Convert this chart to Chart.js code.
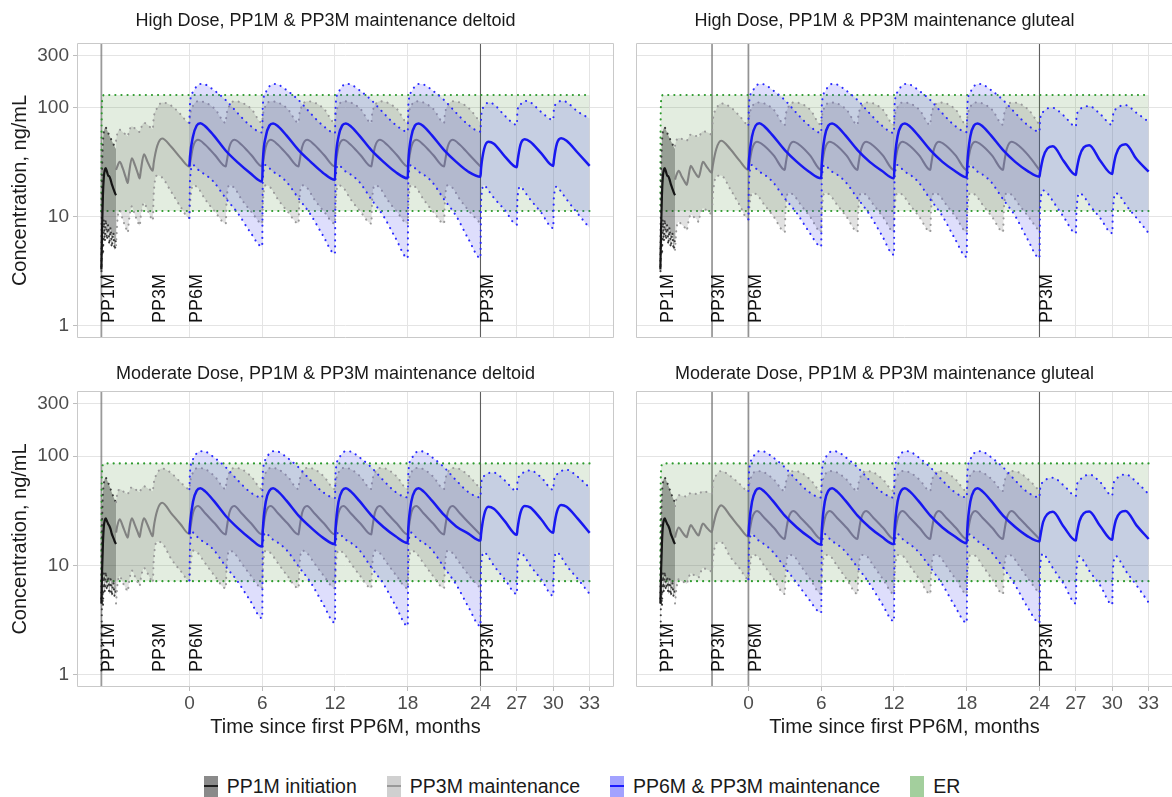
<!DOCTYPE html>
<html><head><meta charset="utf-8">
<script src="https://cdn.jsdelivr.net/npm/chart.js@4.4.1/dist/chart.umd.min.js"></script>
<style>
html,body{margin:0;padding:0;background:#fff;overflow:hidden;width:1172px;height:797px;}
canvas{position:absolute;}
#legend{position:absolute;top:775px;left:-4px;width:1172px;height:22px;display:flex;justify-content:center;align-items:center;font-family:"Liberation Sans",Arial,sans-serif;font-size:19.5px;color:#1a1a1a;}
.item{display:flex;align-items:center;margin:0 15px;}
.key{width:14px;height:21px;position:relative;margin-right:9px;display:inline-block;}
.key i{position:absolute;left:0;right:0;top:9.5px;height:2px;}
</style></head>
<body>
<canvas id="c0" width="614" height="340" style="left:0;top:0"></canvas>
<canvas id="c1" width="537" height="340" style="left:636px;top:0"></canvas>
<canvas id="c2" width="614" height="400" style="left:0;top:345px"></canvas>
<canvas id="c3" width="537" height="400" style="left:636px;top:345px"></canvas>
<div id="legend">
  <div class="item"><span class="key" style="background:#8a8a8a"><i style="background:#1e1e1e"></i></span>PP1M initiation</div>
  <div class="item"><span class="key" style="background:#d0d0d0"><i style="background:#999"></i></span>PP3M maintenance</div>
  <div class="item"><span class="key" style="background:#a2a2ff"><i style="background:#1a1aff"></i></span>PP6M &amp; PP3M maintenance</div>
  <div class="item"><span class="key" style="background:#a3cf9d"></span>ER</div>
</div>
<script>
// ---------- axes / labels ----------
const X_MIN = -9.27, X_MAX = 35.01;
const Y_MIN = 0.776, Y_MAX = 394;
const X_TICKS = [0, 6, 12, 18, 24, 27, 30, 33];
const Y_TICKS = [1, 10, 100, 300];
const PANEL_TITLES = ["High Dose, PP1M & PP3M maintenance deltoid", "High Dose, PP1M & PP3M maintenance gluteal",
  "Moderate Dose, PP1M & PP3M maintenance deltoid", "Moderate Dose, PP1M & PP3M maintenance gluteal"];
const EVENT_TIMES = [-7.26, -3, 0, 24];
const EVENT_LABELS = ["PP1M", "PP3M", "PP6M", "PP3M"];
const LINE_TIMES_LEFT = [-7.26, 24];
const LINE_TIMES_RIGHT = [-3, 0, 24];

// ---------- ER band ----------
const ER_T = [-7.26, -7.25, -7.23, -7.2, -7.15, -7.08, 33];
const ER_HIGH_HI = [11.35, 50, 95, 118, 128, 131.6, 131.6];
const ER_HIGH_LO = [11.35, 11.35, 11.35, 11.35, 11.35, 11.35, 11.35];
const ER_MOD_HI = [7.2, 32, 62, 77, 83.5, 85.8, 85.8];
const ER_MOD_LO = [7.2, 7.2, 7.2, 7.2, 7.2, 7.2, 7.2];

// ---------- PP1M initiation ----------
const INIT_T = [-7.26, -7.2, -7.13, -7.06, -6.98, -6.9, -6.8, -6.7, -6.6, -6.5, -6.4, -6.28, -6.16, -6.05];
const HD_INIT_MED = [3.3, 8, 16, 23, 27, 28, 26, 24, 23.5, 22, 20, 18.3, 16.8, 15.8];
const HD_INIT_HI = [3.5, 25, 48, 60, 65, 66, 63, 59, 56, 53, 50, 47, 44, 42];
const HD_INIT_LO = [2.8, 6.5, 4.5, 9.5, 6, 9.5, 6.2, 8.5, 5.6, 8, 5.3, 7.2, 5, 6.5];
const MD_INIT_MED = [4.5, 9, 16, 22.5, 26, 27, 25.5, 24, 23, 21.5, 19.5, 18, 16.6, 15.7];
const MD_INIT_HI = [5, 24, 45, 56, 62, 63.5, 61, 57, 54, 50, 46.5, 43, 40, 37.6];
const MD_INIT_LO = [1.1, 6, 4.3, 8.5, 5.8, 8.8, 6, 8, 5.5, 7.5, 5.3, 7, 5.2, 6.2];

// ---------- PP3M maintenance ----------
const MAINT_T = [-6.05, -5.95, -5.75, -5.5, -5.25, -5.08, -5.0, -4.75, -4.5, -4.25, -4.1, -4.02, -3.75, -3.45, -3.2, -3.02, -2.95, -2.65, -2.25, -1.5, -0.75,
  0, 0.05, 0.3, 0.7, 1.3, 2.1,
  3, 3.05, 3.3, 3.7, 4.3, 5.1,
  6, 6.05, 6.3, 6.7, 7.3, 8.1,
  9, 9.05, 9.3, 9.7, 10.3, 11.1,
  12, 12.05, 12.3, 12.7, 13.3, 14.1,
  15, 15.05, 15.3, 15.7, 16.3, 17.1,
  18, 18.05, 18.3, 18.7, 19.3, 20.1,
  21, 21.05, 21.3, 21.7, 22.3, 23.1,
  24];
const TL_MAINT_MED = [27, 29, 32, 28, 23, 20.5, 24, 34.5, 30, 25, 22.5, 26, 37.5, 32, 28, 26.5, 31, 45, 52.5, 44, 35,
  29, 31, 44, 51, 46, 37, 29, 31, 44, 51, 46, 37, 29, 31, 44, 51, 46, 37, 29, 31, 44, 51, 46, 37,
  29, 31, 44, 51, 46, 37, 29, 31, 44, 51, 46, 37, 29, 31, 44, 51, 46, 37, 29, 31, 44, 51, 46, 37, 29];
const TL_MAINT_HI = [50, 58, 63, 60, 57, 55, 60, 68, 65, 62, 60, 64, 73, 70, 66, 64, 80, 100, 112, 105, 88,
  73, 85, 105, 115, 112, 98, 73, 85, 105, 115, 112, 98, 73, 85, 105, 115, 112, 98, 73, 85, 105, 115, 112, 98,
  73, 85, 105, 115, 112, 98, 73, 85, 105, 115, 112, 98, 73, 85, 105, 115, 112, 98, 73, 85, 105, 115, 112, 98, 73];
const TL_MAINT_LO = [5.5, 9, 11.5, 9.5, 8, 7.2, 9, 12.5, 10.5, 9, 8.3, 10, 13.5, 11.5, 10, 9.3, 16, 24, 23, 17, 12.5,
  9.8, 13, 19.5, 18.5, 14.5, 11.2, 8.7, 13, 19.5, 18.5, 14.5, 11.2, 8.7, 13, 19.5, 18.5, 14.5, 11.2, 8.7, 13, 19.5, 18.5, 14.5, 11.2,
  8.7, 13, 19.5, 18.5, 14.5, 11.2, 8.7, 13, 19.5, 18.5, 14.5, 11.2, 8.7, 13, 19.5, 18.5, 14.5, 11.2, 8.7, 13, 19.5, 18.5, 14.5, 11.2, 8.7];
const TR_MAINT_MED = [22, 24, 26.5, 23.5, 21, 19.7, 21.5, 29.5, 26.5, 24, 23.2, 24.5, 32, 29, 26.5, 25.5, 29, 42, 50, 42, 33,
  27, 29.5, 42, 49, 45, 36.5, 27, 29.5, 42, 49, 45, 36.5, 27, 29.5, 42, 49, 45, 36.5, 27, 29.5, 42, 49, 45, 36.5,
  27, 29.5, 42, 49, 45, 36.5, 27, 29.5, 42, 49, 45, 36.5, 27, 29.5, 42, 49, 45, 36.5, 27, 29.5, 42, 49, 45, 36.5, 27];
const TR_MAINT_HI = [45, 50, 53, 52, 51, 50, 52, 57, 56, 55, 54, 56, 61, 60, 58, 57, 75, 98, 110, 102, 85,
  70, 82, 102, 112, 110, 96, 70, 82, 102, 112, 110, 96, 70, 82, 102, 112, 110, 96, 70, 82, 102, 112, 110, 96,
  70, 82, 102, 112, 110, 96, 70, 82, 102, 112, 110, 96, 70, 82, 102, 112, 110, 96, 70, 82, 102, 112, 110, 96, 70];
const TR_MAINT_LO = [5, 7.5, 9, 8.5, 8, 7.5, 8.5, 10.5, 10, 9.5, 9, 10, 12, 11.5, 11, 10.5, 15, 23.5, 24, 18, 13,
  9.5, 11.5, 16.5, 16, 13, 10, 7.3, 11, 16.5, 16, 13, 10, 7.3, 11, 16.5, 16, 13, 10, 7.3, 11, 16.5, 16, 13, 10,
  7.3, 11, 16.5, 16, 13, 10, 7.3, 11, 16.5, 16, 13, 10, 7.3, 11, 16.5, 16, 13, 10, 7.3, 11, 16.5, 16, 13, 10, 7.3];
const BL_MAINT_MED = [20, 23, 26.5, 23, 19.5, 18, 20.5, 27, 23.5, 20, 18.2, 20.5, 27, 23.5, 20, 18.5, 22, 32, 37.5, 30, 24,
  19.4, 21, 30.5, 35, 30, 24.2, 19.2, 21, 30.5, 35, 30, 24.2, 19.2, 21, 30.5, 35, 30, 24.2, 19.2, 21, 30.5, 35, 30, 24.2,
  19.2, 21, 30.5, 35, 30, 24.2, 19.2, 21, 30.5, 35, 30, 24.2, 19.2, 21, 30.5, 35, 30, 24.2, 19.2, 21, 30.5, 35, 30, 24.2, 19.2];
const BL_MAINT_HI = [38, 45, 50, 48, 46, 45, 47, 52, 50, 48, 47, 49, 53, 51, 49, 48, 56, 70, 77, 70, 58,
  50, 57, 71, 78, 76, 65, 50, 57, 71, 78, 76, 65, 50, 57, 71, 78, 76, 65, 50, 57, 71, 78, 76, 65,
  50, 57, 71, 78, 76, 65, 50, 57, 71, 78, 76, 65, 50, 57, 71, 78, 76, 65, 50, 57, 71, 78, 76, 65, 50];
const BL_MAINT_LO = [4.5, 6.5, 8, 7, 6.2, 5.8, 6.8, 9, 8, 7, 6.5, 7.5, 9.5, 8.5, 7.5, 7, 11, 16.5, 16, 11.5, 9,
  7.3, 9, 13.7, 13, 10.5, 8, 6.2, 9, 13.7, 13, 10.5, 8, 6.2, 9, 13.7, 13, 10.5, 8, 6.2, 9, 13.7, 13, 10.5, 8,
  6.2, 9, 13.7, 13, 10.5, 8, 6.2, 9, 13.7, 13, 10.5, 8, 6.2, 9, 13.7, 13, 10.5, 8, 6.2, 9, 13.7, 13, 10.5, 8, 6.2];
const BR_MAINT_MED = [18, 20, 22.3, 20.5, 18.8, 18.2, 19.5, 23.4, 21.5, 19.5, 18.8, 20, 24.2, 22.3, 20.8, 20.2, 22, 30, 35.5, 28.5, 22.5,
  18.4, 19.5, 27, 31.5, 27.4, 22.2, 17.5, 19, 27, 31.5, 27.4, 22.2, 17.5, 19, 27, 31.5, 27.4, 22.2, 17.5, 19, 27, 31.5, 27.4, 22.2,
  17.5, 19, 27, 31.5, 27.4, 22.2, 17.5, 19, 27, 31.5, 27.4, 22.2, 17.5, 19, 27, 31.5, 27.4, 22.2, 17.5, 19, 27, 31.5, 27.4, 22.2, 17.5];
const BR_MAINT_HI = [35, 40, 44, 43.5, 43, 42.5, 43.5, 46, 45.5, 45, 44.5, 45.5, 48, 47, 46, 45.5, 55, 67, 73, 66, 56,
  48, 54, 67, 73, 71, 61, 48, 54, 67, 73, 71, 61, 48, 54, 67, 73, 71, 61, 48, 54, 67, 73, 71, 61,
  48, 54, 67, 73, 71, 61, 48, 54, 67, 73, 71, 61, 48, 54, 67, 73, 71, 61, 48, 54, 67, 73, 71, 61, 48];
const BR_MAINT_LO = [4.5, 6, 7.5, 7.2, 7, 6.8, 7.3, 8.5, 8.2, 8, 7.8, 8.2, 9.5, 9.2, 9, 8.8, 11, 16, 16.3, 12, 9.5,
  7.5, 8.5, 12.5, 12.3, 10, 7.5, 5.5, 8, 12.5, 12.3, 10, 7.5, 5.5, 8, 12.5, 12.3, 10, 7.5, 5.5, 8, 12.5, 12.3, 10, 7.5,
  5.5, 8, 12.5, 12.3, 10, 7.5, 5.5, 8, 12.5, 12.3, 10, 7.5, 5.5, 8, 12.5, 12.3, 10, 7.5, 5.5, 8, 12.5, 12.3, 10, 7.5, 5.5];

// ---------- PP6M & PP3M maintenance ----------
const PP6_T = [0, 0.05, 0.3, 0.6, 0.9, 1.3, 2, 3, 4, 5,
  6, 6.05, 6.3, 6.6, 6.9, 7.3, 8, 9, 10, 11,
  12, 12.05, 12.3, 12.6, 12.9, 13.3, 14, 15, 16, 17,
  18, 18.05, 18.3, 18.6, 18.9, 19.3, 20, 21, 22, 23,
  24, 24.05, 24.3, 24.65, 25.1, 26,
  27, 27.05, 27.3, 27.65, 28.1, 29,
  30, 30.05, 30.3, 30.65, 31.1, 32,
  33];
const TL_PP6_MED = [29, 36, 55, 69, 72.5, 68, 56, 40.5, 31.5, 25.3,
  21.1, 32, 55, 69, 72, 68, 56, 41, 32, 25.5,
  21.9, 32, 55, 69, 72, 68, 56, 41, 32, 25.8,
  22.6, 32, 55, 69, 72, 68, 56, 41, 32, 26,
  23.4, 28, 42, 49, 47, 36,
  28.6, 32, 46, 51.6, 49, 38.5,
  29.4, 33, 47, 52.7, 50, 39,
  29.4];
const TL_PP6_HI = [73, 110, 140, 158, 166, 164, 146, 118, 89, 69,
  59.5, 105, 140, 158, 166, 164, 146, 118, 89, 69,
  59, 105, 140, 158, 166, 164, 146, 118, 90, 70,
  60.5, 105, 140, 158, 166, 164, 146, 118, 90, 70,
  60.6, 83, 103, 112, 108, 85,
  70, 95, 108, 116, 113, 92,
  77.6, 96, 110, 116, 113, 93,
  80];
const TL_PP6_LO = [9.8, 22, 30, 28, 26, 24.5, 21, 14.8, 10.8, 7.3,
  5.35, 22, 30, 28, 26, 24.5, 21, 14.8, 10.5, 6.8,
  4.6, 22, 30, 28, 26, 24.5, 21, 14.5, 10.2, 6.4,
  4.2, 22, 30, 28, 26, 24.5, 21, 14.5, 10.2, 6.3,
  4.2, 14, 19.5, 17.5, 15, 11.6,
  8.5, 15, 19, 17, 14.5, 11,
  7.9, 15, 19, 17, 14.5, 10.8,
  7.9];
const TR_PP6_MED = [27, 34, 55, 69, 72.5, 68, 56, 41, 32, 26,
  22.6, 31, 55, 69, 72, 68, 56, 41, 32, 26.5,
  22.6, 31, 55, 69, 72, 68, 56, 41, 32, 26.5,
  23, 31, 55, 69, 72, 68, 56, 41, 32, 26.5,
  23.4, 25.5, 35, 42.5, 44.5, 32.5,
  24.3, 26.5, 36, 43.5, 45.5, 33,
  24.8, 27, 37, 44.5, 46.5, 34,
  26];
const TR_PP6_HI = [70, 110, 140, 158, 166, 164, 146, 118, 89, 69,
  59, 105, 140, 158, 166, 164, 146, 118, 89, 69,
  59, 105, 140, 158, 166, 164, 146, 118, 89, 69,
  60, 105, 140, 158, 166, 164, 146, 118, 90, 70,
  60.6, 78, 92, 99, 100, 85,
  67.5, 82, 96, 102, 104, 88,
  70, 84, 98, 104, 106, 90,
  74.8];
const TR_PP6_LO = [9.5, 22, 30, 28, 26, 24.5, 21, 14.8, 10.8, 7.3,
  5.35, 22, 30, 28, 26, 24.5, 21, 14.8, 10.5, 6.8,
  4.5, 22, 30, 28, 26, 24.5, 21, 14.5, 10.2, 6.4,
  4.3, 22, 30, 28, 26, 24.5, 21, 14.5, 10.2, 6.3,
  4.2, 12, 17.5, 16.5, 14, 10,
  7.1, 11, 16.5, 15.5, 13, 9.8,
  7.1, 11, 16.5, 15.5, 13, 9.8,
  7.1];
const BL_PP6_MED = [19.4, 24, 38.5, 48.3, 50.8, 47.6, 39.2, 28.4, 22, 17.7,
  14.9, 21, 38.5, 48.3, 50.8, 47.6, 39.2, 28.6, 22.3, 18,
  15.7, 21.5, 38.5, 48.3, 50.8, 47.6, 39.2, 28.8, 22.5, 18.5,
  16.1, 22, 38.5, 48.3, 50.8, 47.6, 39.2, 29, 22.8, 19.6,
  16.9, 19.5, 29, 34.4, 33, 25.5,
  19.1, 21.5, 30.5, 35.1, 34, 26.5,
  19.9, 22, 31, 35.8, 34.5, 27,
  19.9];
const BL_PP6_HI = [50, 72, 94, 106, 111, 110, 98, 79, 60, 47,
  41.8, 70, 94, 106, 111, 110, 98, 79, 60, 47,
  41.5, 70, 94, 106, 111, 110, 98, 79, 60, 47,
  42, 70, 94, 106, 111, 110, 98, 79, 60, 47,
  42, 56, 66, 70, 70.6, 60,
  48, 58, 67, 72, 74, 64,
  49.3, 59, 68, 73, 75, 65,
  51.5];
const BL_PP6_LO = [7.3, 15, 20, 18.5, 17.2, 16.2, 13.9, 9.8, 7.1, 4.8,
  3.3, 15, 20, 18.5, 17.2, 16.2, 13.9, 9.8, 7, 4.5,
  3.0, 15, 20, 18.5, 17.2, 16.2, 13.9, 9.6, 6.8, 4.3,
  2.8, 15, 20, 18.5, 17.2, 16.2, 13.9, 9.6, 6.7, 4.2,
  2.8, 10, 13.2, 12, 10, 7.5,
  5.5, 10, 13.2, 12, 10, 7.5,
  5.3, 10, 13.2, 12, 10, 7.6,
  5.5];
const BR_PP6_MED = [18.4, 23, 38.5, 48.3, 50.8, 47.6, 39.2, 28.6, 22.3, 18.2,
  15.5, 21, 38.5, 48.3, 50.8, 47.6, 39.2, 28.6, 22.3, 18.3,
  15.7, 21, 38.5, 48.3, 50.8, 47.6, 39.2, 28.6, 22.3, 18.5,
  16, 21.5, 38.5, 48.3, 50.8, 47.6, 39.2, 28.6, 22.5, 18.6,
  16.6, 18, 25, 29.5, 31, 22.6,
  16.9, 18.5, 25.5, 30, 31.2, 23,
  17.2, 19, 26, 30.5, 31.6, 23.3,
  17.5];
const BR_PP6_HI = [48, 72, 94, 106, 111, 110, 98, 79, 60, 47,
  41.8, 70, 94, 106, 111, 110, 98, 79, 60, 47,
  41.8, 70, 94, 106, 111, 110, 98, 79, 60, 47,
  42, 70, 94, 106, 111, 110, 98, 79, 60, 47,
  42, 50, 58, 62, 63.5, 54,
  43.3, 52, 60, 65, 68, 58,
  43.5, 52, 61, 66, 68, 58,
  45];
const BR_PP6_LO = [7.5, 15, 19.4, 18, 16.7, 15.7, 13.4, 9.6, 6.9, 4.9,
  3.7, 15, 19.4, 18, 16.7, 15.7, 13.4, 9.6, 6.8, 4.5,
  3.1, 15, 19.4, 18, 16.7, 15.7, 13.4, 9.6, 6.7, 4.3,
  3.0, 15, 19.4, 18, 16.7, 15.7, 13.4, 9.6, 6.6, 4.2,
  3.0, 9.5, 12.8, 11.5, 9.5, 6.8,
  4.5, 9, 12.2, 11, 9, 6.6,
  4.4, 9, 12.2, 11, 9, 6.6,
  4.6];

// ---------- drawing ----------
const FONT = "'Liberation Sans', Arial, sans-serif";
Chart.defaults.font.family = FONT;
const DOT = [0.1, 6];

function pts(t, v) { return t.map((x, i) => ({ x: x, y: v[i] })); }
function lineDs(t, v, color, width, dotted, order, fill, bg, mono) {
  return {
    data: pts(t, v), borderColor: color, borderWidth: width,
    borderDash: dotted ? DOT : [], borderCapStyle: dotted ? 'round' : 'butt', borderJoinStyle: 'round',
    pointRadius: 0, pointHoverRadius: 0, fill: fill || false, backgroundColor: bg || 'rgba(0,0,0,0)',
    order: order, cubicInterpolationMode: mono === false ? 'default' : 'monotone', tension: 0
  };
}
function band(ds, t, lo, hi, dotColor, fillColor, order, med, medColor, medWidth, mono) {
  ds.push(lineDs(t, lo, dotColor, 2.1, true, order, false, null, mono));
  ds.push(lineDs(t, hi, dotColor, 2.1, true, order, '-1', fillColor, mono));
  if (med) ds.push(lineDs(t, med, medColor, medWidth, false, order - 1, false, null, mono));
}

const PANELS = [
  { id: 'c0', left: true, bottom: false, title: PANEL_TITLES[0], erHi: ER_HIGH_HI, erLo: ER_HIGH_LO,
    init: [HD_INIT_MED, HD_INIT_LO, HD_INIT_HI], maint: [TL_MAINT_MED, TL_MAINT_LO, TL_MAINT_HI], pp6: [TL_PP6_MED, TL_PP6_LO, TL_PP6_HI] },
  { id: 'c1', left: false, bottom: false, title: PANEL_TITLES[1], erHi: ER_HIGH_HI, erLo: ER_HIGH_LO,
    init: [HD_INIT_MED, HD_INIT_LO, HD_INIT_HI], maint: [TR_MAINT_MED, TR_MAINT_LO, TR_MAINT_HI], pp6: [TR_PP6_MED, TR_PP6_LO, TR_PP6_HI] },
  { id: 'c2', left: true, bottom: true, title: PANEL_TITLES[2], erHi: ER_MOD_HI, erLo: ER_MOD_LO,
    init: [MD_INIT_MED, MD_INIT_LO, MD_INIT_HI], maint: [BL_MAINT_MED, BL_MAINT_LO, BL_MAINT_HI], pp6: [BL_PP6_MED, BL_PP6_LO, BL_PP6_HI] },
  { id: 'c3', left: false, bottom: true, title: PANEL_TITLES[3], erHi: ER_MOD_HI, erLo: ER_MOD_LO,
    init: [MD_INIT_MED, MD_INIT_LO, MD_INIT_HI], maint: [BR_MAINT_MED, BR_MAINT_LO, BR_MAINT_HI], pp6: [BR_PP6_MED, BR_PP6_LO, BR_PP6_HI] }
];

const decoPlugin = {
  id: 'deco',
  afterDatasetsDraw(chart, args, opts) {
    const { ctx, chartArea: a, scales: { x, y } } = chart;
    ctx.save();
    ctx.beginPath(); ctx.rect(a.left, a.top, a.right - a.left, a.bottom - a.top); ctx.clip();
    ctx.font = '18px ' + FONT;
    ctx.fillStyle = '#111';
    ctx.textAlign = 'left';
    ctx.textBaseline = 'middle';
    EVENT_TIMES.forEach((t, i) => {
      const px = x.getPixelForValue(t);
      const py = y.getPixelForValue(1) - 3;
      ctx.save();
      ctx.translate(px + 7.3, py);
      ctx.rotate(-Math.PI / 2);
      ctx.fillText(EVENT_LABELS[i], 0, 0);
      ctx.restore();
    });
    ctx.restore();
    // panel border
    ctx.save();
    ctx.strokeStyle = '#c9c9c9'; ctx.lineWidth = 1;
    ctx.beginPath();
    ctx.moveTo(a.right - 0.5, a.top + 0.5);
    ctx.lineTo(a.left + 0.5, a.top + 0.5);
    ctx.lineTo(a.left + 0.5, a.bottom - 0.5);
    ctx.lineTo(a.right - 0.5, a.bottom - 0.5);
    if (opts.rightBorder) ctx.lineTo(a.right - 0.5, a.top + 0.5);
    ctx.stroke();
    ctx.restore();
    // strip title
    ctx.save();
    ctx.font = '18px ' + FONT;
    ctx.fillStyle = '#1a1a1a';
    ctx.textAlign = 'center';
    ctx.textBaseline = 'middle';
    ctx.fillText(opts.title, (a.left + a.right) / 2 - 20, a.top - opts.titleGap);
    ctx.restore();
  }
};

PANELS.forEach(p => {
  const ds = [];
  const lineTimes = p.left ? LINE_TIMES_LEFT : LINE_TIMES_RIGHT;
  lineTimes.forEach(t => {
    const early = t < 20;
    ds.push({ data: [{ x: t, y: Y_MIN }, { x: t, y: Y_MAX }], borderColor: early ? 'rgba(120,120,120,0.75)' : 'rgba(70,70,70,0.85)',
      borderWidth: early ? 1.8 : 1.1, pointRadius: 0, fill: false, order: 100 });
  });
  band(ds, ER_T, p.erLo, p.erHi, '#2e9a2e', 'rgba(80,140,60,0.16)', 90, null, null, null, false);
  band(ds, INIT_T, p.init[1], p.init[2], '#3a3a3a', 'rgba(45,50,45,0.42)', 80, p.init[0], '#151515', 2.2);
  band(ds, MAINT_T, p.maint[1], p.maint[2], '#9a9a9a', 'rgba(115,115,115,0.21)', 70, p.maint[0], 'rgba(125,125,125,0.95)', 2.1);
  band(ds, PP6_T, p.pp6[1], p.pp6[2], '#2b2bff', 'rgba(60,60,235,0.17)', 60, p.pp6[0], '#1818f0', 2.5);

  new Chart(document.getElementById(p.id), {
    type: 'line',
    data: { datasets: ds },
    options: {
      responsive: false, animation: false, devicePixelRatio: 1,
      layout: { padding: { top: p.bottom ? 46 : 43 }, autoPadding: false },
      events: [],
      plugins: {
        legend: { display: false }, tooltip: { enabled: false }, title: { display: false },
        filler: { propagate: false },
        deco: { title: p.title, rightBorder: p.left, titleGap: p.bottom ? 17 : 21.5 }
      },
      scales: {
        x: {
          type: 'linear', min: X_MIN, max: X_MAX,
          afterBuildTicks: s => { s.ticks = X_TICKS.map(v => ({ value: v })); },
          afterFit: s => { s.height = p.bottom ? 58 : 2; s.paddingLeft = 0; s.paddingRight = 0; s.paddingTop = 0; s.paddingBottom = 0; },
          grid: { color: '#e4e4e4', lineWidth: 1, drawTicks: p.bottom, tickLength: 4, tickColor: '#bdbdbd' },
          border: { display: false },
          ticks: { display: p.bottom, color: '#4d4d4d', font: { family: FONT, size: 19 }, padding: 1, maxRotation: 0, autoSkip: false,
            callback: v => String(v) },
          title: { display: p.bottom, text: 'Time since first PP6M, months', color: '#1a1a1a',
            font: { family: FONT, size: 20, lineHeight: 1.2 }, padding: { top: 0, bottom: 6 } }
        },
        y: {
          type: 'logarithmic', min: Y_MIN, max: Y_MAX,
          afterBuildTicks: s => { s.ticks = Y_TICKS.map(v => ({ value: v })); },
          afterFit: s => { s.width = p.left ? 77 : 0; s.paddingLeft = 0; s.paddingRight = 0; s.paddingTop = 0; s.paddingBottom = 0; },
          grid: { color: '#e4e4e4', lineWidth: 1, drawTicks: p.left, tickLength: 4, tickColor: '#bdbdbd' },
          border: { display: false },
          ticks: { display: p.left, color: '#4d4d4d', font: { family: FONT, size: 19 }, padding: 4, autoSkip: false,
            callback: v => String(v) },
          title: { display: p.left, text: 'Concentration, ng/mL', color: '#1a1a1a',
            font: { family: FONT, size: 20, lineHeight: 1.2 }, padding: { top: 8, bottom: 0 } }
        }
      }
    },
    plugins: [decoPlugin]
  });
});
</script>
</body></html>
